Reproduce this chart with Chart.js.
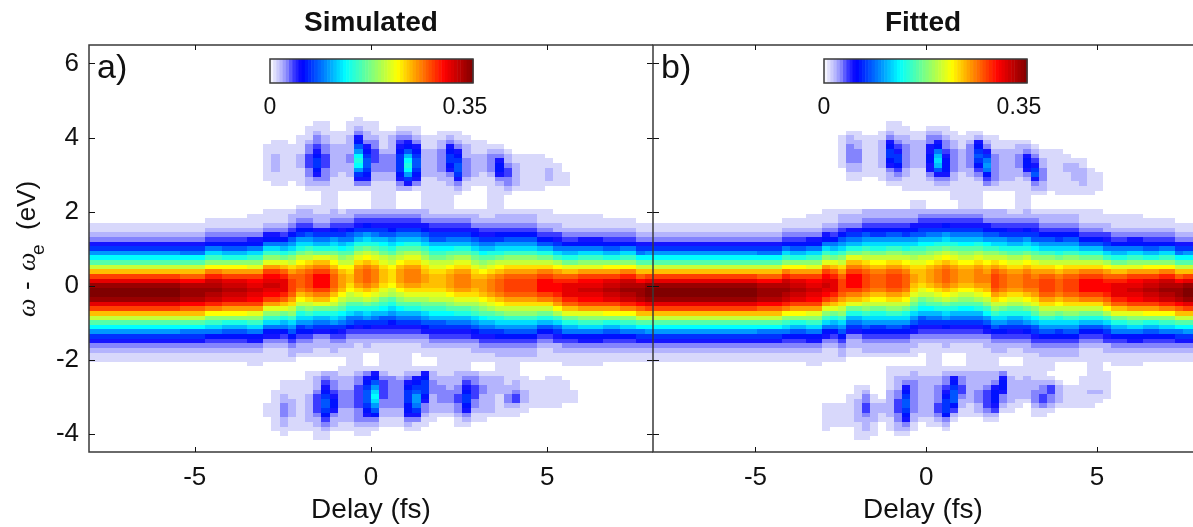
<!DOCTYPE html>
<html>
<head>
<meta charset="utf-8">
<title>Simulated and fitted spectrogram</title>
<script src="https://cdn.jsdelivr.net/npm/chart.js@4"></script>
<style>
  html, body { margin: 0; padding: 0; background: #fff; overflow: hidden; }
  canvas { position: absolute; top: 0; }
  #simCanvas { left: 0; }
  #fitCanvas { left: 640px; }
</style>
</head>
<body>
<canvas id="simCanvas" width="654" height="527"></canvas>
<canvas id="fitCanvas" width="553" height="527"></canvas>
<script>
// axis ticks and ranges
const delayTicks = [-5, 0, 5];
const energyTicks = [-4, -2, 0, 2, 4, 6];
const delayStart = -8;
const delayStep = 16 / 68;
const energyStep = 0.125;
const bandTopEnergy = 2.25;
const sideTopEnergy = 4.5;
const sideBottomEnergy = -2.375;

// colour scale, value -> colour
const colorValues = [0, 0.01, 0.02, 0.03, 0.04, 0.055, 0.13, 0.22, 0.30, 0.35];
const colorHex = ["#ffffff", "#d8d8fb", "#b4b4fd", "#8484fd", "#3c3cff", "#0000ff", "#00ffff", "#ffff00", "#ff0000", "#800000"];

// Values. One string per delay column, one base-36 digit per
// energy row from top to bottom, digit = value in units of 0.01 (z = 0.35).
const simBand = [
  "00000112357adgkosvyzzyvsokgda75321100", "00000112357adgkosvyzzyvsokgda75321100", "00000112357adgkosvyzzyvsokgda75321100",
  "00000112357adgkosvyzzyvsokgda75321100", "00000112357adgkosvyzzyvsokgda75321100", "00000112357adgkosvyzzyvsokgda75321100",
  "00000112357adgkosvyzzyvsokgda75321100", "00000112357adgkosvyzzyvsokgda75321100", "00000112357adgkosvyzzyvsokgda75321100",
  "00000112357adgkosvyzzyvsokgda75321100", "00000112357adgkosvyzzyvsokgda75321100",
  "000001123579dgkoruxyyxurokgd975321100", "000001123579dgkoruxyyxurokgd975321100", "000001123579dgkoruxyyxurokgd975321100",
  "00001123469cfimqtwxyxwtqmifc964321100", "00001123469cfimqtwxyxwtqmifc964321100",
  "00001123468beimpsvwxwvspmieb864321100", "00001123468beimpsvwxwvspmieb864321100", "00001123468beimpsvwxwvspmieb864321100",
  "00011123569cfilpsuvwvusplifc965321110", "00011123569cfilpsuvwvusplifc965321110",
  "0011123569cfilpsuvwvusplifc9653211100", "0011123569cfilpsuvwvusplifc9653211100",
  "0011123469behlortvvvtrolheb9643211100",
  "001223468acfiknprsssrpnkifca864322100",
  "01223467acehkmoqrrrqomkheca7643221000",
  "01223468acfiknprsssrpnkifca8643221000",
  "011223579behloqsuuusqolheb97532211000",
  "111223579behloqsuuusqolheb97532211000",
  "11223467acehkmoqrrrqomkheca7643221000",
  "001234579bdgikmopppomkigdb97543211001",
  "002234689cegjkmnoonmkjgec986432211111",
  "00234579begjlnpqqqpnljgeb975432111111",
  "0023467acehkmoqrrrqomkheca76432210001",
  "11234579begjlnpqqqpnljgeb975432110001",
  "11234578bdfhklnooonlkhfdb875432111111",
  "11234568acegjkmnnnmkjgeca865432111111",
  "00234579bdgikmopppomkigdb975432111111",
  "00234579begjlnpqqqpnljgeb975432111111",
  "00234579begjlnpqqqpnljgeb975432110001",
  "11223568acfhjlnopponljhfca86532211001",
  "111234578bdfhklnooonlkhfdb87543211001",
  "111234578bdfhklnooonlkhfdb87543211111",
  "111234579bdgikmopppomkigdb97543211111",
  "001234579begjlnpqqqpnljgeb97543211111",
  "001234579begjlnpqqqpnljgeb97543211111",
  "001223568acfhjlnopponljhfca8653221100",
  "0011234579bdgikmopppomkigdb9754321100",
  "1111234579begjlnpqqqpnljgeb9754321100",
  "111223467acehkmoqrrrqomkheca764322111",
  "001223468acfiknprsssrpnkifca864322111",
  "001223468acfiknprsssrpnkifca864322111",
  "001223468acfiknprsssrpnkifca864322100",
  "001223468acfiknprsssrpnkifca864322100",
  "0011123468behknqsuuusqnkheb8643211100", "0011123468behknqsuuusqnkheb8643211100",
  "00011224579cfjmprtuutrpmjfc9754221100",
  "00011123469behlortvvvtrolheb964321110", "00011123469behlortvvvtrolheb964321110",
  "00011123569cfilpsuvwvusplifc965321110", "00011123569cfilpsuvwvusplifc965321110", "00011123569cfilpsuvwvusplifc965321110",
  "00001123468beimpsvwxwvspmieb864321100", "00001123468beimpsvwxwvspmieb864321100",
  "00001123469cfimqtwxyxwtqmifc964321100", "00001123469cfimqtwxyxwtqmifc964321100",
  "000001123579dgkoruxyyxurokgd975321100",
  "00000112357adgkosvyzzyvsokgda75321100",
];

// upper sideband, columns from simTopStart on
const simTopStart = 21;
const simTop = [
  "000000111111110000", "000001112222111000", "000001111111111000", "000000111111110000",
  "000011112221111000", "001112334443322100", "011233456776532100", "011122334443332111",
  "000111222222211111", "000111222222111100", "011122223322211100", "1123568adeda753100",
  "011223567887653100", "011123344433221111", "000111123333221111", "000122223333221111",
  "001234567777653200", "00123568bdeda75200", "001123567887653100", "000011122222211111",
  "000011122222211111", "000112233333221111", "000123567765322111", "000112356788753210",
  "000011222333321100", "000001112222211000", "000001112222111000", "000000123333211111",
  "000000123566532111", "000000012234433210", "000000001122222100", "000000001111111100",
  "000000001111111100", "000000001111111100", "000000000112221000", "000000000011111000",
  "000000000000111000",
];

// lower sideband
const simBottomStart = 21;
const simBottom = [
  "0000000111000000", "0000111111111000", "0011122333221100", "0011112222111000",
  "0011111111111000", "1111122222211000", "1222344443221110", "2345678876432110",
  "2233456653221000", "1222333322211000", "1222333322211000", "2334444433321100",
  "3567888765321100", "568acdca86321000", "2344443322110000", "1333333322110000",
  "1233333322110000", "2356777665321000", "25678aa975311000", "5677765332110000",
  "2233322221100000", "1223333221000000", "1222333221000000", "2223344332110000",
  "2345677653210000", "2334443321100000", "1223322221100000", "1222222221000000",
  "1222211111000000", "1112233211000000", "1122344211000000", "0111222110000000",
  "0011111100000000", "0011111100000000", "0111111100000000", "0111111100000000",
  "0011111000000000", "0000111000000000",
];

const fitBand = [
  "00000112357adgkosvyzzyvsokgda75321100", "00000112357adgkosvyzzyvsokgda75321100", "00000112357adgkosvyzzyvsokgda75321100",
  "00000112357adgkosvyzzyvsokgda75321100", "00000112357adgkosvyzzyvsokgda75321100", "00000112357adgkosvyzzyvsokgda75321100",
  "00000112357adgkosvyzzyvsokgda75321100", "00000112357adgkosvyzzyvsokgda75321100", "00000112357adgkosvyzzyvsokgda75321100",
  "00000112357adgkosvyzzyvsokgda75321100", "00000112357adgkosvyzzyvsokgda75321100", "00000112357adgkosvyzzyvsokgda75321100",
  "00000112357adgkosvyzzyvsokgda75321100",
  "000001123579dgkoruxyyxurokgd975321100", "000001123579dgkoruxyyxurokgd975321100", "000001123579dgkoruxyyxurokgd975321100",
  "00001123469cfimqtwxyxwtqmifc964321100",
  "00001123468beimpsvwxwvspmieb864321100", "00001123468beimpsvwxwvspmieb864321100",
  "00011123569cfilpsuvwvusplifc965321110", "00011123569cfilpsuvwvusplifc965321110",
  "0011123569cfilpsuvwvusplifc9653211100",
  "0011123469behlortvvvtrolheb9643211100",
  "001223468acfiknprsssrpnkifca864322100",
  "001223579behloqsuuusqolheb97532211000", "001223579behloqsuuusqolheb97532211000",
  "00223468acfiknprsssrpnkifca8643221000",
  "00223467acehkmoqrrrqomkheca7643221000", "00223467acehkmoqrrrqomkheca7643221000",
  "00223468acfiknprsssrpnkifca8643221001", "00223468acfiknprsssrpnkifca8643221001",
  "00223467acehkmoqrrrqomkheca7643221001",
  "11223568acfhjlnopponljhfca86532211001",
  "11234578bdfhklnooonlkhfdb875432110001",
  "00234579bdgikmopppomkigdb975432111111",
  "00234579begjlnpqqqpnljgeb975432111111",
  "0023467acehkmoqrrrqomkheca76432210001",
  "00234579begjlnpqqqpnljgeb975432110001",
  "11234579bdgikmopppomkigdb975432110001",
  "11234579bdgikmopppomkigdb975432111111",
  "11234579begjlnpqqqpnljgeb975432111111",
  "00223568adfikmopqqpomkifda86532211111",
  "00223468acfiknprsssrpnkifca8643221111",
  "00223467acehkmoqrrrqomkheca7643221001",
  "001234579begjlnpqqqpnljgeb97543211001",
  "111234579begjlnpqqqpnljgeb97543211001",
  "11223467acehkmoqrrrqomkheca7643221111",
  "001234578bdgilnpqrrqpnligdb8754321111",
  "001223468acfiknprsssrpnkifca864322111", "001223468acfiknprsssrpnkifca864322111",
  "001223467acehkmoqrrrqomkheca764322100",
  "001223468acfiknprsssrpnkifca864322100", "001223468acfiknprsssrpnkifca864322100",
  "0011123468behknqsuuusqnkheb8643211100", "0011123468behknqsuuusqnkheb8643211111", "0011123468behknqsuuusqnkheb8643211111",
  "00011224579cfjmprtuutrpmjfc9754221100",
  "00011123469behlortvvvtrolheb964321110", "00011123469behlortvvvtrolheb964321110",
  "00011123569cfilpsuvwvusplifc965321110", "00011123569cfilpsuvwvusplifc965321110",
  "00001123468beimpsvwxwvspmieb864321100", "00001123468beimpsvwxwvspmieb864321100",
  "00001123469cfimqtwxyxwtqmifc964321100", "00001123469cfimqtwxyxwtqmifc964321100",
  "000001123579dgkoruxyyxurokgd975321100",
  "00000112357adgkosvyzzyvsokgda75321100", "00000112357adgkosvyzzyvsokgda75321100",
];

const fitTopStart = 23;
const fitTop = [
  "000011111110000000", "000122333322110000", "000112233322110000", "000011111111100000",
  "000011111111100000", "000112222221110000", "011235677653221000", "011123457764321000",
  "001122333332211100", "000112222221111100", "000112222221111100", "001233556655321100",
  "00123569bcb8532100", "001123345666532100", "000112233333221111", "000011122222111111",
  "000112333332211111", "000125678764321111", "0000123579a9643100", "000011123333332100",
  "000001122222221100", "000001122222221100", "000001223332211111", "000001235665321111",
  "000000123457853210", "000000011223332210", "000000011111111100", "000000011111111110",
  "000000001122111110", "000000000122221110", "000000000112222110", "000000000001111110",
  "000000000000111100",
];

const fitBottomStart = 21;
const fitBottom = [
  "0000000111111000", "0000000111110000", "0000000111110000", "0000011111110000",
  "0001112222211110", "0001233443222110", "0000011222211100", "0000001221100000",
  "1111222222111000", "1222334443322100", "1235678876532100", "2233333332211000",
  "1222222222100000", "1222222222110000", "1223333443210000", "2334567776321000",
  "2567888642100000", "2334432211000000", "2222222111000000", "2222333221000000",
  "2223444432100000", "2235666542100000", "3566533210000000", "1222222110000000",
  "1122221100000000", "1222221000000000", "1122333211000000", "1123344311000000",
  "0124433210000000", "0012222100000000", "0001111100000000", "0001111100000000",
  "0111111100000000", "1111211100000000", "1111211000000000", "1111110000000000",
];

const textFont = "'Liberation Sans', Arial, sans-serif";
const frameColor = "#3a3a3a";

function hexToRgb(hex) {
  return [1, 3, 5].map((start) => parseInt(hex.slice(start, start + 2), 16));
}

function colorFor(value) {
  let index = colorValues.findIndex((stop) => value <= stop);
  if (index <= 0) return index === 0 ? colorHex[0] : colorHex[colorHex.length - 1];
  const low = hexToRgb(colorHex[index - 1]);
  const high = hexToRgb(colorHex[index]);
  const t = (value - colorValues[index - 1]) / (colorValues[index] - colorValues[index - 1]);
  const rgb = low.map((part, i) => Math.round(part + (high[i] - part) * t));
  return `rgb(${rgb[0]},${rgb[1]},${rgb[2]})`;
}

function addColumn(cells, columnIndex, column, startEnergy) {
  for (let row = 0; row < column.length; row++) {
    const level = parseInt(column[row], 36) || 0;
    if (!level) continue;
    cells.push({
      x: delayStart + (columnIndex + 0.5) * delayStep,
      y: startEnergy - row * energyStep,
      v: level / 100,
    });
  }
}

function buildCells(band, top, topStart, bottom, bottomStart) {
  const cells = [];
  band.forEach((column, i) => addColumn(cells, i, column, bandTopEnergy));
  top.forEach((column, i) => addColumn(cells, topStart + i, column, sideTopEnergy));
  bottom.forEach((column, i) => addColumn(cells, bottomStart + i, column, sideBottomEnergy));
  return cells;
}

// heat cells, placed with the chart's own scales
const heatPlugin = {
  id: "heatCells",
  beforeDatasetsDraw(chart) {
    const { ctx, chartArea, scales } = chart;
    ctx.save();
    ctx.beginPath();
    ctx.rect(chartArea.left, chartArea.top, chartArea.width, chartArea.height);
    ctx.clip();
    chart.data.datasets[0].data.forEach((cell) => {
      const left = Math.round(scales.x.getPixelForValue(cell.x - delayStep / 2));
      const right = Math.round(scales.x.getPixelForValue(cell.x + delayStep / 2));
      const top = Math.round(scales.y.getPixelForValue(cell.y + energyStep / 2));
      const bottom = Math.round(scales.y.getPixelForValue(cell.y - energyStep / 2));
      ctx.fillStyle = colorFor(cell.v);
      ctx.fillRect(left, top, right - left, bottom - top);
    });
    ctx.restore();
  },
};

// frame with inward ticks, the colour bar and the panel label
const framePlugin = {
  id: "panelFrame",
  afterDatasetsDraw(chart, args, opts) {
    const { ctx, chartArea: area, scales } = chart;
    ctx.save();
    ctx.strokeStyle = frameColor;
    ctx.lineWidth = 1.5;
    ctx.beginPath();
    ctx.moveTo(area.right, area.top);
    ctx.lineTo(area.left, area.top);
    ctx.lineTo(area.left, area.bottom);
    ctx.lineTo(area.right, area.bottom);
    ctx.stroke();

    ctx.lineWidth = 1;
    ctx.strokeStyle = "#111";
    ctx.beginPath();
    delayTicks.forEach((value) => {
      const x = Math.round(scales.x.getPixelForValue(value)) + 0.5;
      ctx.moveTo(x, area.top);
      ctx.lineTo(x, area.top + 5);
      ctx.moveTo(x, area.bottom);
      ctx.lineTo(x, area.bottom - 5);
    });
    energyTicks.forEach((value) => {
      const y = Math.round(scales.y.getPixelForValue(value)) + 0.5;
      ctx.moveTo(area.left, y);
      ctx.lineTo(area.left + 6, y);
      if (opts.rightTicks) {
        ctx.moveTo(area.right, y);
        ctx.lineTo(area.right - 6, y);
      }
    });
    ctx.stroke();

    // colour bar
    const barSteps = 64;
    const barStep = opts.barWidth / barSteps;
    for (let i = 0; i < barSteps; i++) {
      ctx.fillStyle = colorFor((i + 0.5) / barSteps * opts.barMax);
      ctx.fillRect(opts.barLeft + i * barStep, 59, barStep + 0.5, 24);
    }
    ctx.strokeStyle = frameColor;
    ctx.lineWidth = 1.5;
    ctx.strokeRect(opts.barLeft, 59, opts.barWidth, 24);

    ctx.fillStyle = "#111";
    ctx.font = `23px ${textFont}`;
    ctx.textAlign = "center";
    ctx.textBaseline = "alphabetic";
    ctx.fillText("0", opts.barLeft, 114);
    ctx.fillText(String(opts.barMax), opts.barLeft + opts.barWidth - 8, 114);

    ctx.font = `34px ${textFont}`;
    ctx.textAlign = "left";
    ctx.fillText(opts.label, area.left + 8, 78);
    ctx.restore();
  },
};

// rotated y label with the italic omegas and the subscript
const omegaFont = "italic 26px 'Liberation Serif', serif";
const energyLabelParts = [
  { text: "ω", font: omegaFont, along: 0, drop: 0 },
  { text: "-", font: `26px ${textFont}`, along: 27, drop: 0 },
  { text: "ω", font: omegaFont, along: 46, drop: 0 },
  { text: "e", font: `19px ${textFont}`, along: 62, drop: 9 },
  { text: "(eV)", font: `26px ${textFont}`, along: 87, drop: 0 },
];

const energyLabelPlugin = {
  id: "energyLabel",
  afterDraw(chart) {
    const { ctx } = chart;
    ctx.save();
    ctx.translate(35, 317);
    ctx.rotate(-Math.PI / 2);
    ctx.fillStyle = "#111";
    ctx.textAlign = "left";
    ctx.textBaseline = "alphabetic";
    energyLabelParts.forEach((part) => {
      ctx.font = part.font;
      ctx.fillText(part.text, part.along, part.drop);
    });
    ctx.restore();
  },
};

function renderPanel(canvasId, config) {
  const canvas = document.getElementById(canvasId);
  return new Chart(canvas, {
    type: "scatter",
    data: { datasets: [{ data: config.cells, pointRadius: 0, pointHoverRadius: 0 }] },
    options: {
      responsive: false,
      animation: false,
      events: [],
      layout: { padding: config.padding },
      plugins: {
        legend: { display: false },
        tooltip: { enabled: false },
        title: {
          display: true,
          text: config.title,
          fullSize: false,
          color: "#111",
          font: { family: textFont, size: 28, weight: "bold" },
          padding: { top: 6, bottom: 5.4 },
        },
        panelFrame: config.frame,
      },
      scales: {
        x: {
          type: "linear",
          min: delayStart,
          max: config.delayMax,
          afterBuildTicks(scale) { scale.ticks = delayTicks.map((value) => ({ value })); },
          afterFit(scale) { scale.height = 75; },
          grid: { display: false, drawTicks: false },
          border: { display: false },
          ticks: { color: "#111", font: { family: textFont, size: 26 }, padding: 10, maxRotation: 0 },
          title: {
            display: true,
            text: "Delay (fs)",
            color: "#111",
            font: { family: textFont, size: 28 },
            padding: { top: 0, bottom: 0 },
          },
        },
        y: {
          type: "linear",
          min: -4.5,
          max: 6.5,
          afterBuildTicks(scale) { scale.ticks = energyTicks.map((value) => ({ value })); },
          afterFit(scale) { scale.width = config.axisWidth; },
          grid: { display: false, drawTicks: false },
          border: { display: false },
          ticks: { display: config.showEnergyTicks, color: "#111", font: { family: textFont, size: 26 }, padding: 10 },
        },
      },
    },
    plugins: config.plugins,
  });
}

renderPanel("simCanvas", {
  title: "Simulated",
  cells: buildCells(simBand, simTop, simTopStart, simBottom, simBottomStart),
  delayMax: 8,
  padding: { left: 19, right: 1 },
  axisWidth: 70,
  showEnergyTicks: true,
  frame: { label: "a)", barLeft: 270, barWidth: 203, barMax: 0.35, rightTicks: true },
  plugins: [heatPlugin, framePlugin, energyLabelPlugin],
});

renderPanel("fitCanvas", {
  title: "Fitted",
  cells: buildCells(fitBand, fitTop, fitTopStart, fitBottom, fitBottomStart),
  delayMax: 7.81,
  padding: { left: 13, right: 0 },
  axisWidth: 0,
  showEnergyTicks: false,
  frame: { label: "b)", barLeft: 184, barWidth: 203, barMax: 0.35, rightTicks: false },
  plugins: [heatPlugin, framePlugin],
});
</script>
</body>
</html>
